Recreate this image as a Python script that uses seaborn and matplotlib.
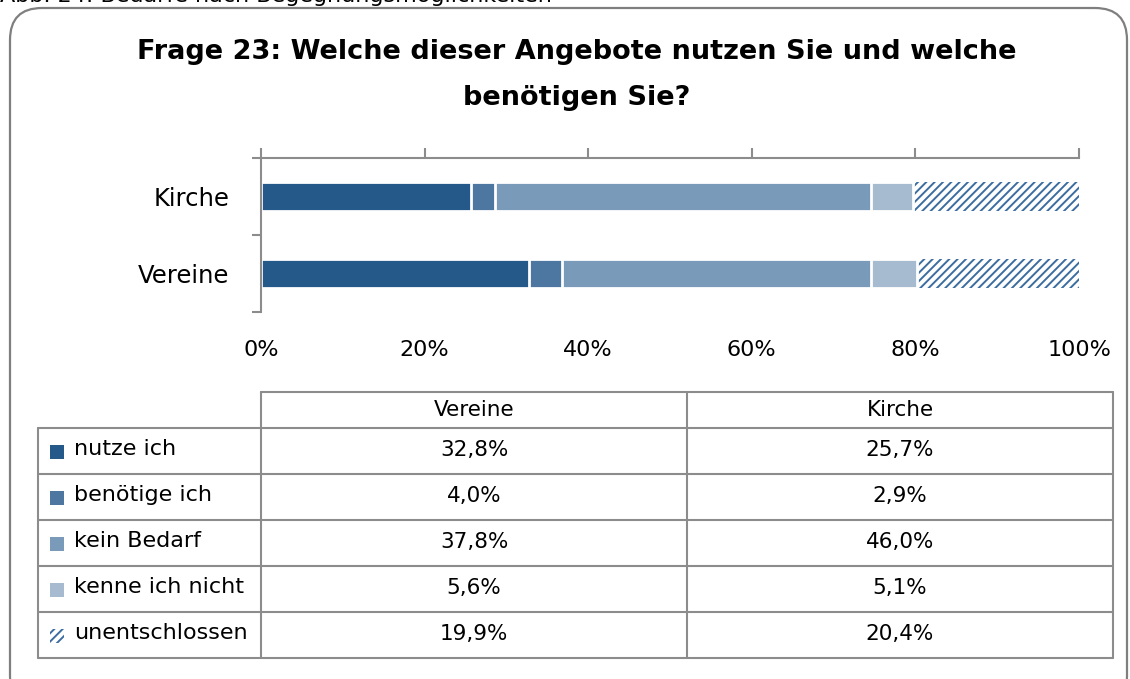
import numpy as np
import pandas as pd
import seaborn as sns
import matplotlib.pyplot as plt
from matplotlib.patches import FancyBboxPatch, Rectangle

# data
groups = ["Kirche", "Vereine"]
answers = ["nutze ich", "benötige ich", "kein Bedarf", "kenne ich nicht", "unentschlossen"]
vereine = [32.8, 4.0, 37.8, 5.6, 19.9]
kirche = [25.7, 2.9, 46.0, 5.1, 20.4]
table_cols = ["Vereine", "Kirche"]
xticks = [0, 20, 40, 60, 80, 100]
colors = ["#245989", "#4d77a1", "#7a9aba", "#a6bad0", "#ffffff"]
hatch_col = "#3c6d9f"
grid_col = "#8c8c8c"

sns.set_style("white")
plt.rcParams["font.family"] = ["DejaVu Sans"]
plt.rcParams["text.color"] = "black"
plt.rcParams["xtick.labelcolor"] = "black"
plt.rcParams["ytick.labelcolor"] = "black"
plt.rcParams["hatch.linewidth"] = 1.4

W, H = 1130, 679
fig = plt.figure(figsize=(W / 100, H / 100), dpi=100)

# background / frame layer in pixel coordinates
bg = fig.add_axes([0, 0, 1, 1], zorder=0)
bg.set_xlim(0, W)
bg.set_ylim(H, 0)
bg.axis("off")
bg.add_patch(FancyBboxPatch((10, 8), 1117, 700, boxstyle="round,pad=0,rounding_size=32",
                            fc="white", ec="#7f7f7f", lw=1.6))
bg.text(0, 2, "Abb. 24: Bedarfe nach Begegnungsmöglichkeiten", fontsize=16, va="baseline", ha="left")
bg.text(577, 52, "Frage 23: Welche dieser Angebote nutzen Sie und welche", fontsize=19.5,
        fontweight="semibold", ha="center", va="center")
bg.text(577, 98, "benötigen Sie?", fontsize=19.5, fontweight="semibold", ha="center", va="center")

# stacked bars
df = pd.DataFrame({"Gruppe": groups * len(answers),
                   "Antwort": np.repeat(answers, len(groups)),
                   "Wert": [v for pair in zip(kirche, vereine) for v in pair]})
cum = df.pivot(index="Gruppe", columns="Antwort", values="Wert")[answers].loc[groups].cumsum(axis=1)

ax = fig.add_axes([261 / W, 1 - 312 / H, 818 / W, 154 / H], zorder=2)
ax.set_facecolor("none")
for i in range(len(answers) - 1, -1, -1):
    d = pd.DataFrame({"Gruppe": groups, "cum": cum[answers[i]].values})
    if i == len(answers) - 1:
        sns.barplot(data=d, x="cum", y="Gruppe", orient="h", color="white", saturation=1,
                    width=0.38, hatch="////", edgecolor=hatch_col, linewidth=0, ax=ax)
    else:
        sns.barplot(data=d, x="cum", y="Gruppe", orient="h", color=colors[i], saturation=1,
                    width=0.38, edgecolor="white", linewidth=2, ax=ax)

ax.set_xlim(0, 100)
ax.set_ylim(1.5, -0.5)
ax.set_xlabel("")
ax.set_ylabel("")
ax.set_xticks(xticks)
ax.set_xticklabels([f"{t}%" for t in xticks], fontsize=16)
ax.tick_params(axis="x", top=True, bottom=False, labeltop=False, labelbottom=True,
               length=7, width=1.5, color=grid_col, pad=13)
ax.set_yticks([0, 1])
ax.set_yticklabels(groups, fontsize=17.5)
ax.set_yticks([-0.5, 0.5, 1.5], minor=True)
ax.tick_params(axis="y", which="major", length=0, pad=23)
ax.tick_params(axis="y", which="minor", left=True, length=6.5, width=1.5, color=grid_col)
for s in ["right", "bottom"]:
    ax.spines[s].set_visible(False)
for s in ["top", "left"]:
    ax.spines[s].set_color(grid_col)
    ax.spines[s].set_linewidth(1.5)

# data table
xs = [38, 261, 687, 1113]
ys = [392, 428, 474, 520, 566, 612, 658]
lk = dict(color=grid_col, lw=1.5)
bg.plot([xs[1], xs[3]], [ys[0], ys[0]], **lk)
for y in ys[1:]:
    bg.plot([xs[0], xs[3]], [y, y], **lk)
bg.plot([xs[0], xs[0]], [ys[1], ys[-1]], **lk)
for x in xs[1:]:
    bg.plot([x, x], [ys[0], ys[-1]], **lk)
for j, c in enumerate(table_cols):
    bg.text((xs[j + 1] + xs[j + 2]) / 2, (ys[0] + ys[1]) / 2, c, fontsize=15.5, ha="center", va="center")
vals = {"Vereine": vereine, "Kirche": kirche}
for i, a in enumerate(answers):
    yc = (ys[i + 1] + ys[i + 2]) / 2
    if i == len(answers) - 1:
        bg.add_patch(Rectangle((50, yc - 6), 14, 14, fc="white", ec=hatch_col, lw=0, hatch="////"))
    else:
        bg.add_patch(Rectangle((50, yc - 6), 14, 14, fc=colors[i], ec="none"))
    bg.text(74, yc - 2, a, fontsize=16, ha="left", va="center")
    for j, c in enumerate(table_cols):
        s = f"{vals[c][i]:.1f}%".replace(".", ",")
        bg.text((xs[j + 1] + xs[j + 2]) / 2, yc - 1, s, fontsize=15.5, ha="center", va="center")

fig.savefig("out.png", dpi=100)
